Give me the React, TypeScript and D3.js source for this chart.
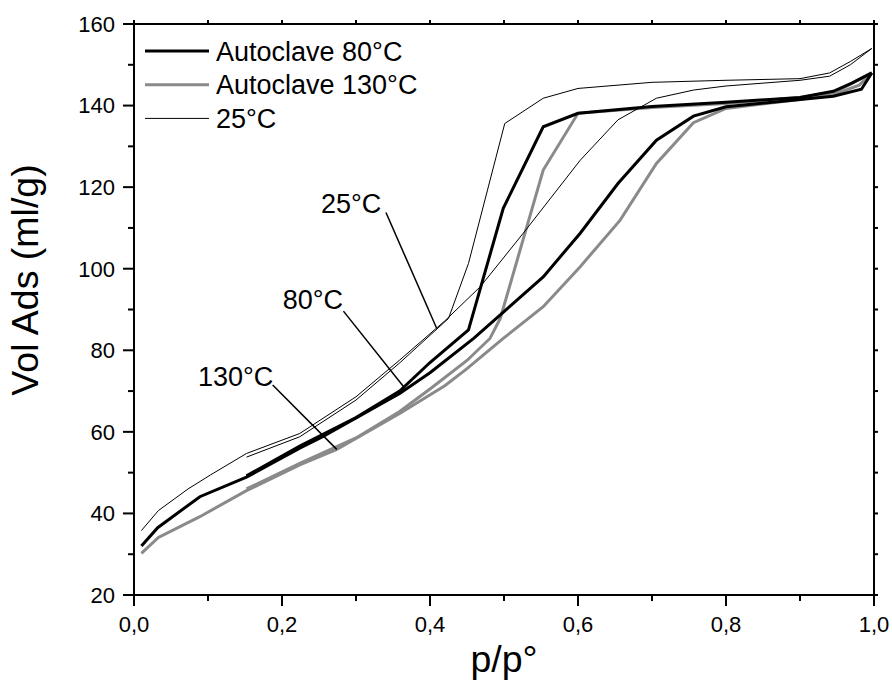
import React from 'react';
import * as d3 from 'd3';

const W = 892;
const H = 691;

// ---------- axis ticks ----------
const xMajor = [0, 0.2, 0.4, 0.6, 0.8, 1.0];
const xLabels = ['0,0', '0,2', '0,4', '0,6', '0,8', '1,0'];
const xMinor = [0.1, 0.3, 0.5, 0.7, 0.9];
const yMajor = [20, 40, 60, 80, 100, 120, 140, 160];
const yMinor = [30, 50, 70, 90, 110, 130, 150];

// ---------- Autoclave 80°C ----------
const p80Ads = [0.01, 0.032, 0.089, 0.152, 0.224, 0.255, 0.359, 0.4, 0.459, 0.5, 0.553, 0.603, 0.654, 0.706, 0.756, 0.8, 0.9, 0.945, 0.983, 0.997];
const v80Ads = [32, 36.5, 44.1, 48.9, 56, 58.8, 69.4, 74.5, 82.9, 89.5, 98, 108.7, 120.9, 131.5, 137.4, 139.7, 141.5, 142.3, 144, 148];
const p80Des = [0.997, 0.97, 0.945, 0.9, 0.8, 0.7, 0.6, 0.553, 0.499, 0.452, 0.4, 0.359, 0.3, 0.224, 0.152];
const v80Des = [148, 145.5, 143.5, 142, 140.8, 139.8, 138.1, 134.8, 114.8, 85, 77, 70, 63.5, 56.5, 49.2];

// ---------- Autoclave 130°C ----------
const p130Ads = [0.01, 0.033, 0.089, 0.152, 0.224, 0.274, 0.359, 0.42, 0.45, 0.499, 0.553, 0.603, 0.657, 0.706, 0.756, 0.8, 0.9, 0.95, 0.98, 0.997];
const v130Ads = [30.2, 34.1, 39.2, 45.6, 51.9, 55.7, 64.5, 71.3, 75.5, 82.9, 90.7, 100.5, 111.9, 125.8, 135.8, 139.3, 141.5, 143, 145, 148];
const p130Des = [0.997, 0.95, 0.9, 0.8, 0.7, 0.6, 0.553, 0.495, 0.481, 0.45, 0.4, 0.359, 0.3, 0.224, 0.152];
const v130Des = [148, 143.5, 142, 140.5, 139.5, 138.1, 124.2, 87.8, 82.9, 77.5, 70.5, 65, 58.5, 52.3, 46];

// ---------- 25°C ----------
const p25Ads = [0.01, 0.033, 0.073, 0.103, 0.152, 0.224, 0.3, 0.359, 0.42, 0.468, 0.526, 0.603, 0.654, 0.706, 0.756, 0.8, 0.85, 0.9, 0.94, 0.968, 0.997];
const v25Ads = [35.8, 40.7, 46, 49.4, 54.7, 59.6, 68.6, 77.6, 87.2, 95.6, 108.7, 126.6, 136.5, 141.8, 143.8, 144.8, 145.5, 146.2, 147.2, 150, 154];
const p25Des = [0.997, 0.968, 0.94, 0.9, 0.8, 0.7, 0.6, 0.553, 0.501, 0.452, 0.425, 0.359, 0.3, 0.224, 0.152];
const v25Des = [154, 150.8, 148, 146.6, 146.2, 145.7, 144.2, 141.8, 135.6, 101.3, 87.8, 76.9, 67.8, 58.8, 53.8];

// ---------- legend / annotations ----------
const legendNames = ['Autoclave 80°C', 'Autoclave 130°C', '25°C'];
const annoText = ['25°C', '80°C', '130°C'];
const annoTextPos = [[0.2527, 113.6], [0.201, 90.1], [0.0865, 71.2]]; // [p, v] of label left/baseline
const annoFrom = [[0.3405, 113.8], [0.283, 89.6], [0.1874, 71.5]];
const annoTo = [[0.409, 85.4], [0.366, 70.7], [0.274, 55.7]];

const FONT = 'Liberation Sans, Arial, Helvetica, sans-serif';

export default function App() {
  const x = d3.scaleLinear().domain([0, 1]).range([134, 874]);
  const y = d3.scaleLinear().domain([20, 160]).range([595, 24]);
  const line = d3.line<[number, number]>().x((d) => x(d[0])).y((d) => y(d[1]));
  const zip = (a: number[], b: number[]) => a.map((v, i) => [v, b[i]] as [number, number]);

  const series = [
    { p: p130Ads, v: v130Ads, color: '#8a8a8a', w: 3 },
    { p: p130Des, v: v130Des, color: '#8a8a8a', w: 3 },
    { p: p80Ads, v: v80Ads, color: '#000', w: 3 },
    { p: p80Des, v: v80Des, color: '#000', w: 3 },
    { p: p25Ads, v: v25Ads, color: '#000', w: 1 },
    { p: p25Des, v: v25Des, color: '#000', w: 1 },
  ];
  const legendStyles = [
    { color: '#000', w: 3 },
    { color: '#8a8a8a', w: 3 },
    { color: '#000', w: 1 },
  ];

  return (
    <svg width={W} height={H} style={{ position: 'absolute', left: 0, top: 0, background: '#fff' }} fontFamily={FONT}>
      <rect x={0} y={0} width={W} height={H} fill="#fff" />
      {series.map((s, i) => (
        <path key={i} d={line(zip(s.p, s.v)) || ''} fill="none" stroke={s.color} strokeWidth={s.w} strokeLinejoin="miter" />
      ))}
      {/* annotations */}
      {annoText.map((t, i) => (
        <g key={t}>
          <text x={x(annoTextPos[i][0])} y={y(annoTextPos[i][1])} fontSize={27} fill="#000">{t}</text>
          <line x1={x(annoFrom[i][0])} y1={y(annoFrom[i][1])} x2={x(annoTo[i][0])} y2={y(annoTo[i][1])} stroke="#000" strokeWidth={1.5} />
        </g>
      ))}
      {/* frame */}
      <rect x={x(0)} y={y(160)} width={x(1) - x(0)} height={y(20) - y(160)} fill="none" stroke="#000" strokeWidth={2} />
      {/* bottom ticks */}
      {xMajor.map((t, i) => (
        <g key={'xm' + t}>
          <line x1={x(t)} x2={x(t)} y1={y(20)} y2={y(20) + 11} stroke="#000" strokeWidth={2} />
          <line x1={x(t)} x2={x(t)} y1={y(160)} y2={y(160) - 4} stroke="#000" strokeWidth={2} />
          <text x={x(t)} y={632} fontSize={22} textAnchor="middle">{xLabels[i]}</text>
        </g>
      ))}
      {xMinor.map((t) => (
        <g key={'xn' + t}>
          <line x1={x(t)} x2={x(t)} y1={y(20)} y2={y(20) + 6} stroke="#000" strokeWidth={2} />
          <line x1={x(t)} x2={x(t)} y1={y(160)} y2={y(160) - 4} stroke="#000" strokeWidth={2} />
        </g>
      ))}
      {yMajor.map((t) => (
        <g key={'ym' + t}>
          <line x1={x(0) - 11} x2={x(0)} y1={y(t)} y2={y(t)} stroke="#000" strokeWidth={2} />
          <line x1={x(1)} x2={x(1) + 4} y1={y(t)} y2={y(t)} stroke="#000" strokeWidth={2} />
          <text x={115} y={y(t)} dy="0.36em" fontSize={22} textAnchor="end">{t}</text>
        </g>
      ))}
      {yMinor.map((t) => (
        <g key={'yn' + t}>
          <line x1={x(0) - 6} x2={x(0)} y1={y(t)} y2={y(t)} stroke="#000" strokeWidth={2} />
          <line x1={x(1)} x2={x(1) + 4} y1={y(t)} y2={y(t)} stroke="#000" strokeWidth={2} />
        </g>
      ))}
      {/* axis titles */}
      <text x={504} y={672} fontSize={37.5} textAnchor="middle">p/p°</text>
      <text transform={`translate(38,280) rotate(-90)`} fontSize={37.5} textAnchor="middle">Vol Ads (ml/g)</text>
      {/* legend */}
      {legendNames.map((n, i) => (
        <g key={n}>
          <line x1={145} x2={209} y1={51 + i * 33.7} y2={51 + i * 33.7} stroke={legendStyles[i].color} strokeWidth={legendStyles[i].w} />
          <text x={216} y={51 + i * 33.7} dy="0.36em" fontSize={27}>{n}</text>
        </g>
      ))}
    </svg>
  );
}
